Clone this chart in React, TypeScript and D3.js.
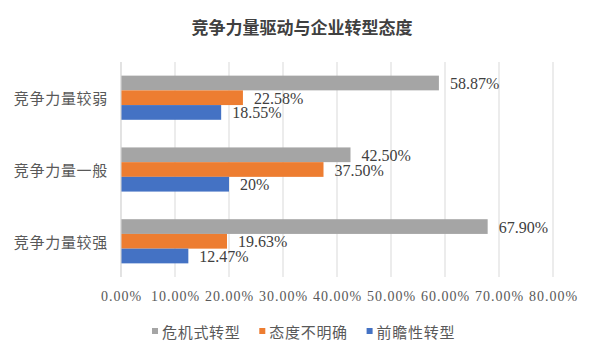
import React from "react";
import * as d3 from "d3";

const title = "竞争力量驱动与企业转型态度";
const categories = ["竞争力量较弱", "竞争力量一般", "竞争力量较强"];
const seriesNames = ["危机式转型", "态度不明确", "前瞻性转型"];
const seriesColors = ["#a5a5a5", "#ed7d31", "#4472c4"];
const crisisValues = [58.87, 42.5, 67.9];
const unclearValues = [22.58, 37.5, 19.63];
const proactiveValues = [18.55, 20, 12.47];
const valueLabels = [
  ["58.87%", "42.50%", "67.90%"],
  ["22.58%", "37.50%", "19.63%"],
  ["18.55%", "20%", "12.47%"],
];
const tickValues = [0, 10, 20, 30, 40, 50, 60, 70, 80];
const tickLabels = ["0.00%", "10.00%", "20.00%", "30.00%", "40.00%", "50.00%", "60.00%", "70.00%", "80.00%"];

const W = 600;
const H = 356;
const plot = { left: 121, right: 553, top: 62, bottom: 277 };
const cjk = "'Noto Sans CJK SC', 'Noto Sans', sans-serif";
const serif = "'Liberation Serif', 'Times New Roman', serif";

export default function App() {
  const series = [crisisValues, unclearValues, proactiveValues];
  const x = d3.scaleLinear().domain([0, 80]).range([plot.left, plot.right]);
  const y = d3
    .scaleBand<string>()
    .domain(categories)
    .range([plot.top, plot.bottom])
    .paddingInner(0.385)
    .paddingOuter(0.19);
  const sub = d3
    .scaleBand<string>()
    .domain(seriesNames)
    .range([0, y.bandwidth()])
    .padding(0);

  return (
    <svg
      width={W}
      height={H}
      viewBox={`0 0 ${W} ${H}`}
      style={{ position: "absolute", left: 0, top: 0, background: "#fff", display: "block" }}
    >
      <rect x={0} y={0} width={W} height={H} fill="#fff" />
      <text
        x={302}
        y={26}
        textAnchor="middle"
        dominantBaseline="central"
        fontFamily={cjk}
        fontWeight={700}
        fontSize={17}
        fill="#404040"
      >
        {title}
      </text>

      {/* gridlines */}
      {tickValues.map((t) => (
        <line
          key={"g" + t}
          x1={x(t)}
          x2={x(t)}
          y1={plot.top}
          y2={plot.bottom}
          stroke="#d9d9d9"
          strokeWidth={1}
        />
      ))}

      {/* tick labels */}
      {tickValues.map((t, i) => (
        <text
          key={"t" + t}
          x={x(t) + 0.5}
          y={296}
          textAnchor="middle"
          dominantBaseline="central"
          fontFamily={serif}
          fontSize={14}
          letterSpacing={1}
          fill="#595959"
        >
          {tickLabels[i]}
        </text>
      ))}

      {/* bars */}
      {categories.map((c, ci) => (
        <g key={c}>
          {series.map((vals, si) => {
            const y0 = (y(c) as number) + (sub(seriesNames[si]) as number);
            const bh = sub.bandwidth();
            return (
              <g key={si}>
                <rect
                  x={x(0)}
                  y={y0}
                  width={x(vals[ci]) - x(0)}
                  height={bh}
                  fill={seriesColors[si]}
                />
                <text
                  x={x(vals[ci]) + 11}
                  y={y0 + bh / 2 + 0.5}
                  dominantBaseline="central"
                  fontFamily={serif}
                  fontSize={16}
                  fill="#404040"
                >
                  {valueLabels[si][ci]}
                </text>
              </g>
            );
          })}
          <text
            x={108}
            y={(y(c) as number) + y.bandwidth() / 2}
            textAnchor="end"
            dominantBaseline="central"
            fontFamily={cjk}
            fontSize={15}
            letterSpacing={0.7}
            fill="#595959"
          >
            {c}
          </text>
        </g>
      ))}

      {/* left axis line */}
      <line x1={x(0)} x2={x(0)} y1={plot.top} y2={plot.bottom} stroke="#d9d9d9" strokeWidth={1} />

      {/* legend */}
      {seriesNames.map((s, i) => {
        const lx = 152 + i * 107.3;
        return (
          <g key={s}>
            <rect x={lx} y={328} width={6} height={6} fill={seriesColors[i]} />
            <text
              x={lx + 10}
              y={331}
              dominantBaseline="central"
              fontFamily={cjk}
              fontSize={15}
              letterSpacing={0.7}
              fill="#595959"
            >
              {s}
            </text>
          </g>
        );
      })}
    </svg>
  );
}
